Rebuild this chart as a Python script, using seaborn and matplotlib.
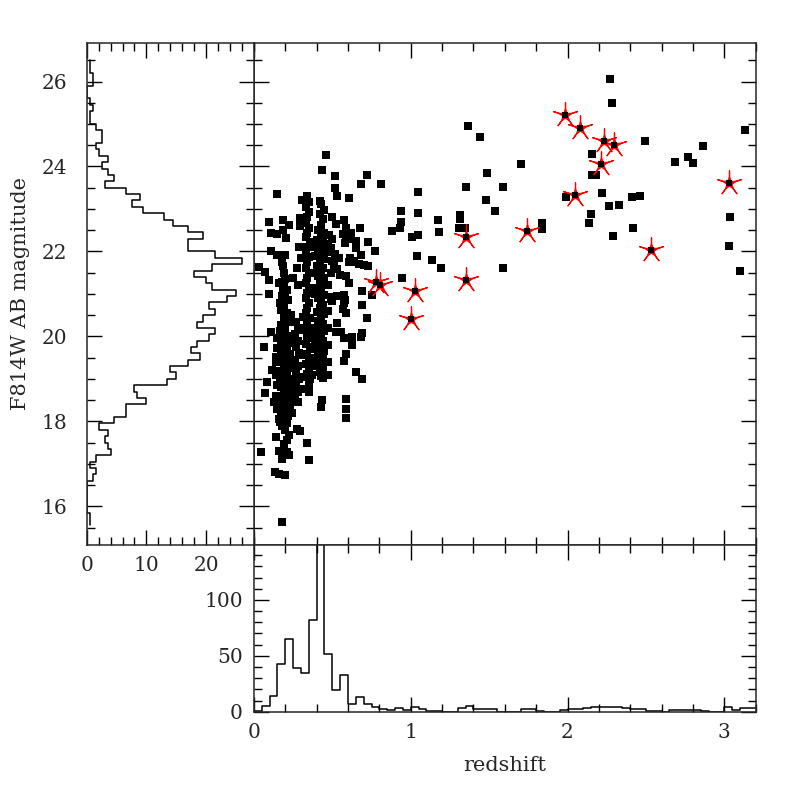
import numpy as np
import pandas as pd
import matplotlib
matplotlib.use("Agg")
import matplotlib.pyplot as plt
from matplotlib.ticker import MultipleLocator
import seaborn as sns

# isolated galaxies (redshift, F814W magnitude)
z_field = [0.458, 0.437, 0.520, 0.720, 0.682, 0.809, 0.515, 0.145, 0.532, 0.605, 0.305, 0.422,
           0.094, 0.185, 0.222, 0.185, 0.106, 0.149, 0.204, 0.294, 0.294, 0.496, 0.522, 0.575,
           0.586, 0.677, 0.880, 0.618, 0.586, 0.650, 0.728, 0.771, 0.682, 0.106, 0.149, 0.198,
           0.179, 0.187, 0.032, 0.070, 0.096, 0.277, 0.251, 0.162, 0.096, 0.183, 0.192, 0.692,
           0.724, 0.688, 0.750, 0.699, 0.728, 0.607, 0.639, 0.590, 0.607, 0.575, 0.575, 0.586,
           0.494, 0.528, 0.528, 0.522, 0.558, 0.628, 0.575, 0.624, 0.686, 0.688, 0.586, 0.575,
           0.650, 0.692, 0.586, 0.586, 0.586, 0.437, 0.426, 0.106, 0.064, 0.145, 0.138, 0.117,
           0.081, 0.070, 0.341, 0.351, 0.277, 0.292, 0.224, 0.213, 0.192, 0.138, 0.160, 0.213,
           0.224, 0.181, 0.047, 0.132, 0.160, 0.196, 0.179,
           1.046, 0.941, 1.046, 0.939, 1.176, 0.930, 1.006, 1.046, 1.178, 1.043, 1.135, 1.190,
           0.946, 1.313, 1.313, 1.310, 1.345, 2.268, 2.283, 1.363, 1.444, 2.494, 3.129, 2.865,
           2.153, 2.688, 2.768, 2.802, 1.702, 1.485, 2.153, 2.183, 1.353, 1.591, 1.480, 1.540,
           1.987, 2.219, 2.264, 2.326, 2.409, 2.460, 2.149, 2.139, 2.288, 2.417, 3.033, 3.029,
           3.101, 1.838, 1.838, 1.587]
mag_field = [24.26, 23.92, 23.77, 23.80, 23.59, 23.59, 23.50, 23.36, 23.30, 23.26, 23.22, 23.18,
             22.69, 22.75, 22.63, 22.51, 22.43, 22.40, 22.32, 22.79, 22.61, 22.80, 22.65, 22.75,
             22.55, 22.54, 22.49, 22.43, 22.35, 22.08, 22.22, 22.02, 21.92, 22.02, 21.91, 21.92,
             21.76, 21.65, 21.63, 21.52, 21.33, 21.61, 21.37, 21.25, 21.00, 21.06, 20.90, 20.74,
             20.43, 21.06, 20.98, 21.68, 21.65, 21.76, 21.74, 21.41, 21.25, 20.98, 20.78, 20.54,
             20.87, 20.94, 20.31, 20.11, 20.11, 19.99, 19.95, 19.80, 19.99, 20.09, 19.58, 19.43,
             19.17, 18.99, 18.52, 18.29, 18.07, 18.51, 18.34, 20.11, 19.74, 19.72, 19.52, 19.21,
             18.93, 18.67, 17.49, 17.10, 17.81, 17.77, 17.67, 17.55, 17.46, 17.62, 17.30, 17.28,
             17.20, 17.12, 17.28, 16.81, 16.77, 16.74, 15.62,
             23.39, 22.95, 22.90, 22.70, 22.75, 22.54, 22.35, 22.39, 22.46, 21.89, 21.80, 21.61,
             21.37, 22.85, 22.77, 22.54, 22.54, 26.07, 25.49, 24.96, 24.70, 24.61, 24.87, 24.48,
             24.30, 24.11, 24.23, 24.09, 24.05, 23.85, 23.79, 23.80, 23.51, 23.52, 23.20, 22.96,
             23.27, 23.38, 23.07, 23.10, 23.27, 23.30, 22.87, 22.68, 22.37, 22.54, 22.82, 22.12,
             21.53, 22.68, 22.53, 21.61]

# crowded sheets at z ~ 0.2, 0.3, 0.42
z_core = [0.43, 0.45, 0.42, 0.44, 0.43, 0.41, 0.45, 0.43, 0.40, 0.44, 0.42, 0.46, 0.41, 0.43,
          0.45, 0.42, 0.40, 0.44, 0.43, 0.41, 0.45, 0.42, 0.44, 0.40, 0.43, 0.45, 0.41, 0.43,
          0.44, 0.42, 0.40, 0.45, 0.43, 0.41, 0.44, 0.42, 0.45, 0.43, 0.41, 0.44, 0.42, 0.43,
          0.45, 0.41, 0.44, 0.42, 0.43, 0.44, 0.42, 0.43, 0.44,
          0.48, 0.50, 0.47, 0.49, 0.47, 0.50, 0.51, 0.49, 0.49, 0.50,
          0.47, 0.47, 0.47, 0.47, 0.47, 0.47, 0.39, 0.39, 0.39, 0.39,
          0.34, 0.35, 0.33, 0.35, 0.34, 0.33, 0.35, 0.34, 0.33, 0.36, 0.34, 0.33, 0.35, 0.34,
          0.33, 0.35, 0.34, 0.33, 0.35, 0.34, 0.33, 0.35, 0.34, 0.33, 0.36, 0.34, 0.33, 0.35,
          0.34, 0.33, 0.36, 0.34, 0.35, 0.33, 0.35, 0.34, 0.36,
          0.38, 0.37, 0.38, 0.37, 0.35, 0.35, 0.38, 0.385, 0.38, 0.39,
          0.19, 0.21, 0.18, 0.22, 0.19, 0.17, 0.21, 0.19, 0.22, 0.17, 0.20, 0.18, 0.22, 0.19,
          0.17, 0.21, 0.18, 0.23, 0.20, 0.17, 0.22, 0.19, 0.16, 0.21, 0.18, 0.23, 0.20, 0.17,
          0.22, 0.19, 0.16, 0.21, 0.18, 0.23, 0.20, 0.17, 0.22, 0.19, 0.21, 0.18, 0.20,
          0.20, 0.165, 0.235, 0.20, 0.165, 0.235, 0.20, 0.17, 0.23, 0.20, 0.165, 0.235, 0.20,
          0.17, 0.23, 0.20, 0.165, 0.23, 0.20, 0.17,
          0.14, 0.15, 0.14, 0.25, 0.26, 0.15, 0.24, 0.16, 0.14, 0.15, 0.13, 0.24,
          0.27, 0.28, 0.26, 0.28, 0.27, 0.29, 0.26, 0.28, 0.27, 0.29, 0.27, 0.28, 0.26, 0.28,
          0.30, 0.25, 0.30, 0.25, 0.31, 0.25, 0.30, 0.31,
          0.19, 0.20, 0.18, 0.29, 0.30, 0.28,
          0.58, 0.57, 0.52, 0.54, 0.51, 0.53, 0.55, 0.57, 0.58, 0.62, 0.65,
          0.61, 0.64, 0.67, 0.70, 0.73]
mag_core = [23.12, 22.98, 22.88, 22.76, 22.62, 22.50, 22.44, 22.36, 22.27, 22.20, 22.12, 22.05,
            21.97, 21.90, 21.81, 21.74, 21.66, 21.60, 21.51, 21.43, 21.37, 21.28, 21.20, 21.13,
            21.05, 20.97, 20.90, 20.82, 20.74, 20.66, 20.58, 20.52, 20.44, 20.36, 20.28, 20.21,
            20.13, 20.05, 19.97, 19.90, 19.82, 19.74, 19.66, 19.58, 19.50, 19.42, 19.33, 19.24,
            19.15, 19.07, 19.02,
            22.38, 22.30, 22.18, 22.08, 21.98, 21.78, 21.62, 21.50, 20.92, 20.84,
            21.20, 20.60, 20.20, 19.80, 19.40, 19.10, 21.90, 21.00, 20.00, 19.30,
            23.30, 23.16, 23.04, 22.92, 22.80, 22.68, 22.56, 22.44, 22.33, 22.22, 22.10, 21.98,
            21.86, 21.74, 21.62, 21.50, 21.38, 21.26, 21.15, 21.03, 20.91, 20.79, 20.67, 20.55,
            20.43, 20.31, 20.19, 20.07, 19.95, 19.83, 19.71, 19.59, 19.47, 19.35, 19.23, 19.12,
            19.00,
            19.75, 19.50, 19.30, 19.10, 18.85, 18.68, 22.10, 21.50, 20.20, 19.85,
            21.20, 21.08, 20.95, 20.85, 20.72, 20.62, 20.55, 20.45, 20.35, 20.27, 20.18, 20.08,
            20.00, 19.92, 19.83, 19.75, 19.66, 19.58, 19.50, 19.42, 19.35, 19.27, 19.19, 19.12,
            19.04, 18.96, 18.88, 18.80, 18.72, 18.64, 18.57, 18.50, 18.42, 18.35, 18.27, 18.20,
            18.12, 18.04, 17.96, 17.88, 17.80,
            21.02, 20.78, 20.50, 20.30, 20.12, 19.96, 19.80, 19.61, 19.45, 19.31, 19.05, 18.90,
            18.70, 18.52, 18.38, 18.18, 17.98, 18.62, 17.92, 18.95,
            19.10, 18.85, 18.60, 19.00, 18.75, 18.30, 18.20, 18.05, 19.40, 19.95, 18.45, 19.30,
            20.35, 20.20, 20.05, 19.90, 19.75, 19.60, 19.45, 19.30, 19.15, 19.00, 18.85, 18.70,
            18.55, 18.45,
            20.15, 19.85, 19.55, 19.25, 19.05, 18.62, 18.75, 20.45,
            21.50, 21.35, 21.28, 22.10, 21.85, 21.20,
            20.85, 20.65, 21.95, 21.85, 21.72, 21.58, 21.45, 22.42, 22.20, 22.30, 22.25,
            21.84, 21.78, 21.70, 21.68, 21.65]

# X-ray AGN (red stars)
z_agn = [1.981, 2.079, 2.232, 2.294, 2.211, 2.045, 3.029, 1.353, 1.742, 2.532, 1.353,
         0.777, 0.803, 1.027, 1.001]
mag_agn = [25.22, 24.90, 24.61, 24.51, 24.05, 23.32, 23.61, 22.35, 22.47, 22.04, 21.33,
           21.27, 21.20, 21.07, 20.41]

# redshift histogram, bins of 0.05 from 0 to 3.2
z_counts = [1, 5, 14, 43, 65, 39, 35, 82, 175, 52, 19, 33, 7, 13, 7, 4, 2, 1.5, 3, 1.5,
            4, 2, 1, 1, 0, 0, 3, 5, 2, 2, 2, 0, 0, 0, 2, 2, 1, 0, 0, 1.5,
            2, 2, 3, 4, 4, 4.5, 4, 3, 2, 2, 1, 1, 0, 1.5, 1.5, 1.5, 1.5, 1, 0, 0,
            4, 1.5, 3, 3]
# magnitude histogram, bins of 0.15 from 15.55 to 26.5
mag_counts = [0.5, 0.5, 0, 0, 0, 0, 0, 1.0, 1.5, 0.5, 1.5, 4.0, 3.5, 3.0, 3.5, 2.0, 4.5,
              6.5, 6.5, 10.0, 8.5, 8.0, 13.5, 15.0, 14.0, 17.0, 19.0, 17.5, 18.5, 20.5, 21.5,
              18.5, 19.5, 21.5, 20.5, 23.5, 25.0, 21.0, 20.0, 18.0, 21.0, 26.0, 21.5,
              17.0, 17.0, 19.5, 17.0, 14.5, 13.0, 9.5, 7.5, 9.0, 6.5, 3.0, 4.5, 3.5, 2.5,
              3.5, 2.0, 1.5, 2.5, 2.5, 1.5, 0.5, 0.5, 1.0, 0.5, 0, 0, 1.0, 1.0, 0.5, 0.5]

z_edges = np.linspace(0, 3.2, len(z_counts) + 1)
mag_edges = np.linspace(15.55, 26.5, len(mag_counts) + 1)
z_hist = pd.DataFrame({"z": 0.5 * (z_edges[1:] + z_edges[:-1]), "n": z_counts})
mag_hist = pd.DataFrame({"mag": 0.5 * (mag_edges[1:] + mag_edges[:-1]), "n": mag_counts})

sns.set_style("ticks")
plt.rcParams['font.family'] = ['DejaVu Serif']
plt.rcParams['axes.linewidth'] = 1.1

fig = plt.figure(figsize=(7.97, 7.97), dpi=100)
ax = fig.add_axes([0.3186, 0.3168, 0.6296, 0.6289])
axl = fig.add_axes([0.1088, 0.3168, 0.2098, 0.6289])
axb = fig.add_axes([0.3186, 0.1070, 0.6296, 0.2098])

# main scatter
sns.scatterplot(x=z_core, y=mag_core, ax=ax, marker='s', s=26, color='black', linewidth=0)
sns.scatterplot(x=z_field, y=mag_field, ax=ax, marker='s', s=26, color='black', linewidth=0)
ax.scatter(z_agn, mag_agn, marker=(5, 2, 0), s=330, color='red', linewidths=0.9, zorder=3)
sns.scatterplot(x=z_agn, y=mag_agn, ax=ax, marker='*', s=160, color='red', linewidth=0, zorder=3)
sns.scatterplot(x=z_agn, y=mag_agn, ax=ax, marker='s', s=18, color='black', linewidth=0, zorder=4)

# side histograms
sns.histplot(data=mag_hist, y="mag", weights="n", bins=mag_edges.tolist(), element='step',
             fill=False, color='black', linewidth=1.1, ax=axl)
sns.histplot(data=z_hist, x="z", weights="n", bins=z_edges.tolist(), element='step',
             fill=False, color='black', linewidth=1.1, ax=axb)

ax.set_xlim(0, 3.2)
ax.set_ylim(15.1, 26.9)
axl.set_ylim(15.1, 26.9)
axl.set_xlim(0, 28)
axb.set_xlim(0, 3.2)
axb.set_ylim(0, 149.5)

for a in (ax, axl, axb):
    a.set_xlabel('')
    a.set_ylabel('')
    a.tick_params(which='both', direction='in', top=True, bottom=True, left=True, right=True,
                  width=1.0, labelsize=14.5, color='black')
    a.tick_params(which='major', length=11)
    a.tick_params(which='minor', length=5.5)

ax.xaxis.set_major_locator(MultipleLocator(1))
ax.xaxis.set_minor_locator(MultipleLocator(0.2))
ax.yaxis.set_major_locator(MultipleLocator(2))
ax.yaxis.set_minor_locator(MultipleLocator(0.5))
ax.tick_params(labelbottom=False, labelleft=False)

axl.yaxis.set_major_locator(MultipleLocator(2))
axl.yaxis.set_minor_locator(MultipleLocator(0.5))
axl.xaxis.set_major_locator(MultipleLocator(10))
axl.xaxis.set_minor_locator(MultipleLocator(2))
axl.tick_params(axis='y', pad=14)
axl.tick_params(axis='x', pad=8)

axb.xaxis.set_major_locator(MultipleLocator(1))
axb.xaxis.set_minor_locator(MultipleLocator(0.2))
axb.yaxis.set_major_locator(MultipleLocator(50))
axb.yaxis.set_minor_locator(MultipleLocator(10))
axb.tick_params(axis='x', pad=8)
axb.tick_params(axis='y', pad=8)

axl.set_ylabel('F814W AB magnitude', fontsize=15, labelpad=8)
axb.set_xlabel('redshift', fontsize=15, labelpad=10)

fig.savefig('out.png', dpi=100)
